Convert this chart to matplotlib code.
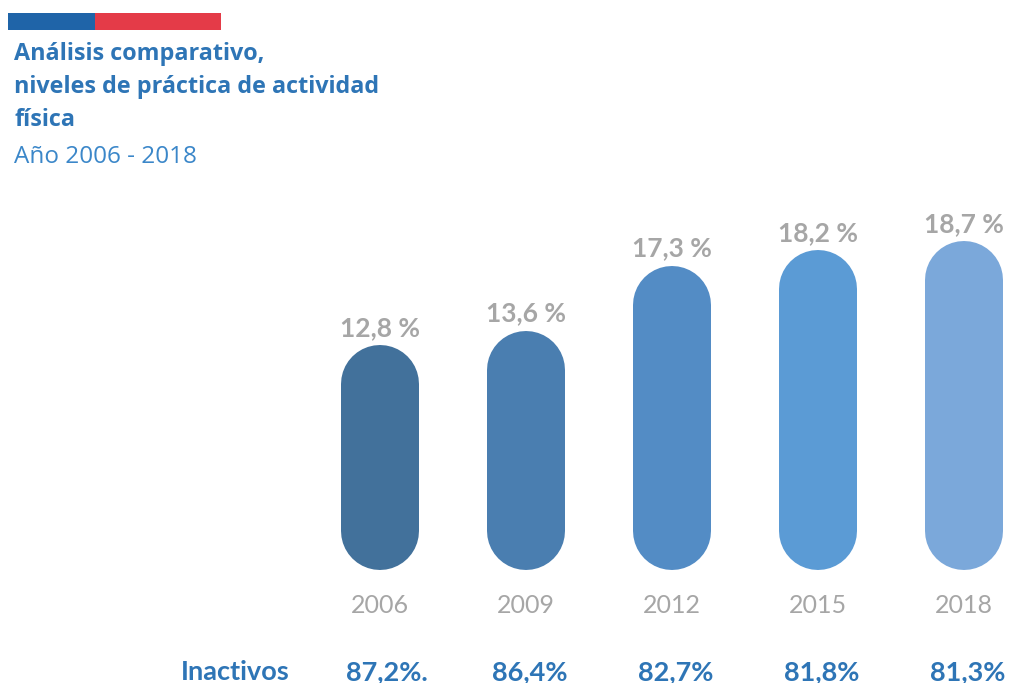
import matplotlib.pyplot as plt
from matplotlib.patches import Rectangle

# data
years = ["2006", "2009", "2012", "2015", "2018"]
activos = [12.8, 13.6, 17.3, 18.2, 18.7]
activos_labels = ["12,8 %", "13,6 %", "17,3 %", "18,2 %", "18,7 %"]
inactivos_labels = ["87,2%.", "86,4%", "82,7%", "81,8%", "81,3%"]
bar_colors = ["#42719b", "#4a7eb0", "#538cc5", "#5b9bd5", "#7ba8da"]

W, H = 1013, 683
fig = plt.figure(figsize=(W / 100, H / 100), dpi=100)
ax = fig.add_axes([0, 0, 1, 1])
ax.axis("off")

# pixel geometry: categories every 146 px starting at 380, 17.6 px per %
px_x, px_y = 146.0, 17.6
x0_px, y0_px = 380.0, H - 570.0
ax.set_xlim(-x0_px / px_x, (W - x0_px) / px_x)
ax.set_ylim(-y0_px / px_y, (H - y0_px) / px_y)

bw_px = 78
bw = bw_px / px_x
gray = "#a6a6a6"
blue_txt = "#2e75b6"

# pill-shaped bars: thick lines with round caps
r_y = (bw_px / 2) / px_y
for i, (v, c) in enumerate(zip(activos, bar_colors)):
    ax.plot([i, i], [r_y, v - r_y], color=c, lw=bw_px * 0.72,
            solid_capstyle="round")
    ax.text(i, v + 9 / px_y, activos_labels[i], ha="center", va="baseline",
            color=gray, fontsize=19, fontweight="bold", family="Lato")
    ax.text(i, -43 / px_y, years[i], ha="center", va="baseline",
            color=gray, fontsize=18, family="Lato")
    ax.text(i - bw / 2 + 5 / px_x, -110 / px_y, inactivos_labels[i],
            ha="left", va="baseline", color=blue_txt, fontsize=19.5,
            fontweight="bold", family="Lato")

ax.text(-1.366, -110 / px_y, "Inactivos", ha="left", va="baseline",
        color=blue_txt, fontsize=19.5, fontweight="bold", family="Lato")

# header strip
fig.add_artist(Rectangle((8 / W, 1 - 30 / H), 87 / W, 17 / H,
                         transform=fig.transFigure, color="#1f64a8", lw=0))
fig.add_artist(Rectangle((95 / W, 1 - 30 / H), 126 / W, 17 / H,
                         transform=fig.transFigure, color="#e43b48", lw=0))

# title
title_lines = ["Análisis comparativo,", "niveles de práctica de actividad", "física"]
for k, line in enumerate(title_lines):
    fig.text(14 / W, 1 - (60 + 33 * k) / H, line, ha="left", va="baseline",
             color=blue_txt, fontsize=16.8, fontweight="bold", family="Open Sans")
fig.text(14 / W, 1 - 163 / H, "Año 2006 - 2018", ha="left", va="baseline",
         color="#3b87c9", fontsize=17.5, family="Open Sans")

fig.savefig("out.png", dpi=100)
